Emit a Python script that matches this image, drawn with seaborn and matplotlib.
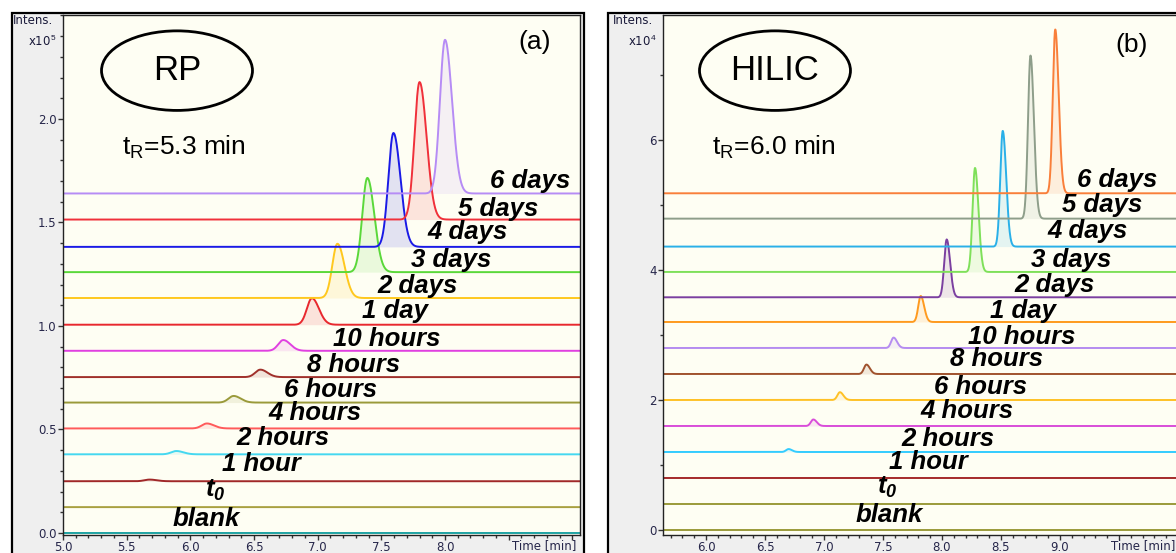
import numpy as np
import pandas as pd
import matplotlib
matplotlib.use("Agg")
import matplotlib.pyplot as plt
import seaborn as sns
from matplotlib.patches import Ellipse, Rectangle
from matplotlib.ticker import MultipleLocator

# ---------------- data ----------------
samples = ["blank", "t0", "1 hour", "2 hours", "4 hours", "6 hours", "8 hours",
           "10 hours", "1 day", "2 days", "3 days", "4 days", "5 days", "6 days"]
sample_labels = ["blank", r"$\mathbf{t_0}$", "1 hour", "2 hours", "4 hours", "6 hours",
                 "8 hours", "10 hours", "1 day", "2 days", "3 days", "4 days",
                 "5 days", "6 days"]

# RP panel (x10^5)
rp_offset = [0.0, 0.125, 0.25, 0.38, 0.505, 0.63, 0.753, 0.88, 1.006, 1.135,
             1.26, 1.382, 1.514, 1.64]
rp_peak_time = [np.nan, np.nan, 5.68, 5.89, 6.13, 6.34, 6.55, 6.73, 6.955,
                7.155, 7.39, 7.595, 7.80, 8.00]
rp_peak_height = [0.0, 0.0, 0.008, 0.016, 0.024, 0.032, 0.036, 0.052, 0.128,
                  0.262, 0.455, 0.55, 0.664, 0.742]
rp_colors = ["#1fa3a3", "#a8a040", "#a02828", "#45d8f0", "#ff5a5a", "#9a9a3a",
             "#a0302a", "#e040e0", "#e8282e", "#ffc81e", "#5ad83a", "#1a1ae6",
             "#f0303a", "#b68cf5"]
rp_label_x = [5.86, 6.115, 6.25, 6.36, 6.61, 6.735, 6.92, 7.12, 7.35, 7.47,
              7.73, 7.865, 8.10, 8.35]
rp_label_y = [0.068, 0.205, 0.333, 0.459, 0.58, 0.691, 0.812, 0.937, 1.072,
              1.193, 1.319, 1.454, 1.565, 1.70]

# HILIC panel (x10^4)
hilic_offset = [0.0, 0.4, 0.8, 1.2, 1.6, 2.0, 2.4, 2.8, 3.2, 3.58, 3.97,
                4.36, 4.79, 5.18]
hilic_peak_time = [np.nan, np.nan, np.nan, 6.70, 6.91, 7.135, 7.36, 7.59,
                   7.82, 8.04, 8.28, 8.515, 8.75, 8.96]
hilic_peak_height = [0.0, 0.0, 0.0, 0.045, 0.10, 0.12, 0.145, 0.16, 0.40,
                     0.89, 1.60, 1.78, 2.51, 2.52]
hilic_colors = ["#9a9a3a", "#9a9a3a", "#a52a2a", "#33ccff", "#d94dd9",
                "#ffc125", "#a0522d", "#b58cf0", "#ff9a1e", "#7b3fa0",
                "#7fe05a", "#2ab0e8", "#8e9e8a", "#f97f3a"]
hilic_label_x = [7.27, 7.45, 7.55, 7.66, 7.814, 7.932, 8.068, 8.22, 8.407,
                 8.61, 8.754, 8.89, 9.017, 9.144]
hilic_label_y = [0.23, 0.65, 1.05, 1.40, 1.83, 2.2, 2.63, 2.97, 3.37, 3.77,
                 4.15, 4.6, 5.0, 5.385]

# ---------------- style ----------------
sns.set_theme(style="white")
plt.rcParams["font.family"] = ["Liberation Sans", "DejaVu Sans"]
plt.rcParams["mathtext.fontset"] = "custom"
plt.rcParams["mathtext.rm"] = "Liberation Sans"
plt.rcParams["mathtext.bf"] = "Liberation Sans:bold:italic"
plt.rcParams["mathtext.it"] = "Liberation Sans:italic"

W, H = 1176, 553
fig = plt.figure(figsize=(W / 100, H / 100), dpi=100)
fig.patch.set_facecolor("white")

def fx(px):
    return px / W

def fy(py):
    return 1 - py / H

# grey instrument panels
for x0, x1 in [(12, 584), (608, 1200)]:
    fig.add_artist(Rectangle((fx(x0), -0.05), fx(x1 - x0), fy(13) + 0.05,
                             transform=fig.transFigure, facecolor="#efefef",
                             edgecolor="black", lw=1.6, zorder=-5))

PLOT_BG = "#fefef3"
TICK_C = "#26264a"


def peak_shape(t, center, height, sl, sr):
    s = np.where(t < center, sl, sr)
    return height * np.exp(-0.5 * ((t - center) / s) ** 2)


def draw_panel(ax, xlim, ylim, offsets, ptimes, pheights, colors, sl, sr,
               lab_x, lab_y):
    t = np.linspace(xlim[0], xlim[1], 2500)
    frames = []
    for name, off, pt, ph in zip(samples, offsets, ptimes, pheights):
        y = np.full_like(t, off)
        if not np.isnan(pt):
            y = y + peak_shape(t, pt, ph, sl, sr)
        frames.append(pd.DataFrame({"time": t, "intensity": y, "sample": name}))
    df = pd.concat(frames, ignore_index=True)
    pal = dict(zip(samples, colors))
    for name, off in zip(samples, offsets):
        d = df[df["sample"] == name]
        ax.fill_between(d["time"], off, d["intensity"], color=pal[name],
                        alpha=0.12, lw=0, zorder=1)
    sns.lineplot(data=df, x="time", y="intensity", hue="sample",
                 hue_order=samples, palette=pal, estimator=None, sort=False,
                 legend=False, lw=1.4, ax=ax, zorder=2)
    for lab, lx, ly in zip(sample_labels, lab_x, lab_y):
        ax.text(lx, ly, lab, fontsize=18.5, fontweight="bold", fontstyle="italic",
                color="black", ha="left", va="center", zorder=5)
    ax.set_xlim(*xlim)
    ax.set_ylim(*ylim)
    ax.set_facecolor(PLOT_BG)
    ax.set_xlabel("")
    ax.set_ylabel("")
    for sp in ax.spines.values():
        sp.set_color("#222222")
        sp.set_linewidth(1.0)
    ax.tick_params(which="major", direction="out", length=3.5, width=1,
                   color="#333333", labelsize=8.5, labelcolor=TICK_C, pad=1,
                   left=True, bottom=True)
    ax.tick_params(which="minor", direction="out", length=2.2, width=1,
                   color="#333333", left=True, bottom=True)


# ---- left: RP ----
axL = fig.add_axes([fx(63), 1 - 535 / H, fx(517), 520 / H])
draw_panel(axL, (5.0, 9.06), (-0.0097, 2.502), rp_offset, rp_peak_time,
           rp_peak_height, rp_colors, 0.04, 0.055, rp_label_x, rp_label_y)
axL.set_xticks(np.arange(5.0, 9.01, 0.5))
axL.set_xticklabels([f"{v:.1f}" for v in np.arange(5.0, 8.01, 0.5)] + ["", ""])
axL.xaxis.set_minor_locator(MultipleLocator(0.1))
axL.set_yticks(np.arange(0.0, 2.01, 0.5))
axL.set_yticklabels([f"{v:.1f}" for v in np.arange(0.0, 2.01, 0.5)])
axL.yaxis.set_minor_locator(MultipleLocator(0.1))

# ---- right: HILIC ----
axR = fig.add_axes([fx(663), 1 - 535 / H, fx(517), 520 / H])
draw_panel(axR, (5.636, 10.017), (-0.077, 7.923), hilic_offset, hilic_peak_time,
           hilic_peak_height, hilic_colors, 0.021, 0.029, hilic_label_x,
           hilic_label_y)
axR.set_xticks(np.arange(6.0, 10.01, 0.5))
axR.set_xticklabels([f"{v:.1f}" for v in np.arange(6.0, 9.01, 0.5)] + ["", ""])
axR.xaxis.set_minor_locator(MultipleLocator(0.1))
axR.set_yticks([0, 2, 4, 6])
axR.set_yticklabels(["0", "2", "4", "6"])
axR.yaxis.set_minor_locator(MultipleLocator(1))

for ax in (axL, axR):
    for lab in ax.get_xticklabels() + ax.get_yticklabels():
        lab.set_fontfamily("DejaVu Sans")

# annotations
for ax, name, tr, tag, ex, tx, tagx, tagy in [
        (axL, "RP", r"$\mathrm{t_R}$=5.3 min", "(a)", 0.2205, 122, 535, 42),
        (axR, "HILIC", r"$\mathrm{t_R}$=6.0 min", "(b)", 0.2166, 712, 1132, 45)]:
    ax.add_patch(Ellipse((ex, 0.893), 0.292, 0.153, transform=ax.transAxes,
                         facecolor="none", edgecolor="black", lw=2.0, zorder=6))
    ax.text(ex, 0.893, name, transform=ax.transAxes, fontsize=25,
            ha="center", va="center", color="black", zorder=7)
    fig.text(fx(tx), fy(147), tr, fontsize=19, ha="left", va="center",
             color="black")
    fig.text(fx(tagx), fy(tagy), tag, fontsize=19, ha="center", va="center",
             color="black")

# instrument axis captions
for x_left, x_right, exp in [(13, 56, "5"), (613, 656, "4")]:
    fig.text(fx(x_left), fy(20), "Intens.", fontsize=8.5, ha="left",
             va="center", color="#1a1a3a", family="DejaVu Sans")
    fig.text(fx(x_right), fy(41), r"x10$^{%s}$" % exp, fontsize=8.5,
             ha="right", va="center", color="#1a1a3a", family="DejaVu Sans")
fig.text(fx(576), fy(546), "Time [min]", fontsize=8.5, ha="right", va="center",
         color=TICK_C, family="DejaVu Sans")
fig.text(fx(1175), fy(546), "Time [min]", fontsize=8.5, ha="right", va="center",
         color=TICK_C, family="DejaVu Sans")

fig.savefig("out.png", dpi=100)
